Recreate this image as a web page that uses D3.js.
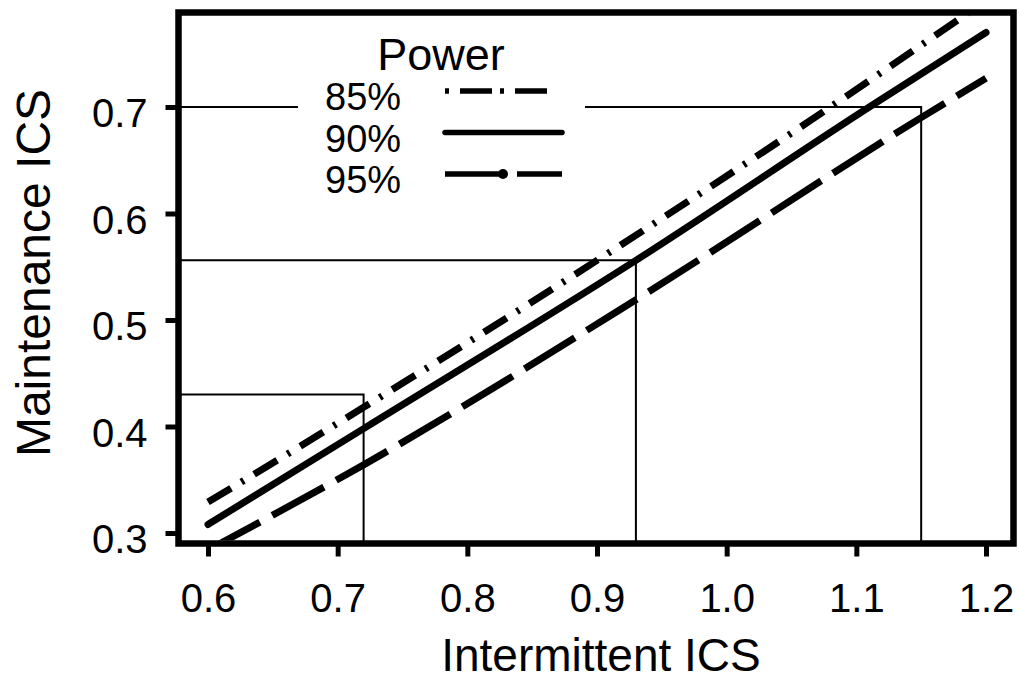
<!DOCTYPE html>
<html>
<head>
<meta charset="utf-8">
<script src="https://cdn.jsdelivr.net/npm/d3@7"></script>
<style>
  body { margin: 0; background: #fff; }
  svg { display: block; }
  text { font-family: Arial, "Liberation Sans", Helvetica, sans-serif; fill: #000; }
</style>
</head>
<body>
<div id="main"></div>
<script>
// values
var xTicks = [0.6, 0.7, 0.8, 0.9, 1.0, 1.1, 1.2];
var yTicks = [0.3, 0.4, 0.5, 0.6, 0.7];

var x85 = [0.6, 0.72, 0.9, 1.08, 1.2];
var y85 = [0.329, 0.418, 0.556, 0.700, 0.800];
var x90 = [0.6, 0.72, 0.93, 1.11, 1.2];
var y90 = [0.308, 0.398, 0.556, 0.700, 0.770];
var x95 = [0.6, 0.72, 0.93, 1.15, 1.2];
var y95 = [0.284, 0.364, 0.519, 0.690, 0.727];

// reference guides (x, y)
var refX = [0.72, 0.93, 1.15];
var refY = [0.43, 0.556, 0.70];

var powerLabels = ["85%", "90%", "95%"];

function zip(xs, ys) {
    return xs.map(function(v, i) { return {x: v, y: ys[i]}; });
}

var series = [
    {name: powerLabels[0], data: zip(x85, y85), dash: "27,12,3,12", cap: "butt"},
    {name: powerLabels[1], data: zip(x90, y90), dash: null, cap: "round"},
    {name: powerLabels[2], data: zip(x95, y95), dash: "59,14", cap: "butt"}
];

var svg = d3.select("#main").append("svg")
    .attr("width", 1019)
    .attr("height", 683);

var margin = {top: 12.5, right: 5.5, bottom: 139.5, left: 178.5},
    width = 1019 - margin.left - margin.right,
    height = 683 - margin.top - margin.bottom,
    g = svg.append("g").attr("transform", "translate(" + margin.left + "," + margin.top + ")");

var x = d3.scaleLinear()
    .domain([0.57725, 1.2212])
    .range([0, width]);

var y = d3.scaleLinear()
    .domain([0.29014, 0.78873])
    .range([height, 0]);

g.append("clipPath")
    .attr("id", "plotclip")
    .append("rect")
    .attr("x", 3).attr("y", 3)
    .attr("width", width - 6).attr("height", height - 6);

// axes
var xAxis = g.append("g")
    .attr("transform", "translate(0," + height + ")")
    .call(d3.axisBottom(x).tickValues(xTicks).tickFormat(d3.format(".1f")).tickSize(13).tickSizeOuter(0));
xAxis.select(".domain").remove();
xAxis.selectAll("line").attr("stroke", "#000").attr("stroke-width", 5);
xAxis.selectAll("text")
    .attr("y", 68)
    .attr("dy", null)
    .style("font-size", "40px");

var yAxis = g.append("g")
    .call(d3.axisLeft(y).tickValues(yTicks).tickFormat(d3.format(".1f")).tickSize(13).tickSizeOuter(0));
yAxis.select(".domain").remove();
yAxis.selectAll("line").attr("stroke", "#000").attr("stroke-width", 5);
yAxis.selectAll("text")
    .attr("x", -31)
    .attr("dy", "0.5em")
    .style("font-size", "40px");

// thin guide lines
var guides = g.append("g").attr("stroke", "#000").attr("stroke-width", 2).attr("fill", "none");
refX.forEach(function(rx, i) {
    guides.append("path")
        .attr("d", "M0," + y(refY[i]) + "H" + x(rx) + "V" + height);
});

// power curves
var line = d3.line()
    .x(function(d) { return x(d.x); })
    .y(function(d) { return y(d.y); })
    .curve(d3.curveMonotoneX);

g.append("g").attr("clip-path", "url(#plotclip)")
    .selectAll("path")
    .data(series)
    .enter().append("path")
    .attr("fill", "none")
    .attr("stroke", "#000")
    .attr("stroke-width", 7)
    .attr("stroke-linecap", function(d) { return d.cap; })
    .attr("stroke-dasharray", function(d) { return d.dash; })
    .attr("d", function(d) { return line(d.data); });

// legend
var legend = g.append("g").attr("transform", "translate(" + (298 - margin.left) + "," + (25 - margin.top) + ")");
legend.append("rect")
    .attr("width", 287).attr("height", 175)
    .attr("fill", "#fff");
legend.append("text")
    .attr("x", 143).attr("y", 45)
    .attr("text-anchor", "middle")
    .style("font-size", "45px")
    .text("Power");

var legendDash = ["4,11,32,8", null, "60,12"];
series.forEach(function(s, i) {
    var rowY = 85 + i * 41.5;
    legend.append("text")
        .attr("x", 27).attr("y", rowY)
        .style("font-size", "38px")
        .text(s.name);
    legend.append("line")
        .attr("x1", 147).attr("x2", i === 0 ? 251 : 264)
        .attr("y1", rowY - 19).attr("y2", rowY - 19)
        .attr("stroke", "#000")
        .attr("stroke-width", 5.5)
        .attr("stroke-linecap", i === 1 ? "round" : "butt")
        .attr("stroke-dasharray", legendDash[i]);
    if (i === 2) {
        legend.append("circle")
            .attr("cx", 205).attr("cy", rowY - 19).attr("r", 5)
            .attr("fill", "#000");
    }
});

// frame
g.append("rect")
    .attr("width", width).attr("height", height)
    .attr("fill", "none")
    .attr("stroke", "#000")
    .attr("stroke-width", 6.5);

// axis titles
svg.append("text")
    .attr("x", 601).attr("y", 671)
    .attr("text-anchor", "middle")
    .style("font-size", "46px")
    .text("Intermittent ICS");

svg.append("text")
    .attr("transform", "translate(50,273) rotate(-90)")
    .attr("text-anchor", "middle")
    .style("font-size", "48px")
    .text("Maintenance ICS");
</script>
</body>
</html>
